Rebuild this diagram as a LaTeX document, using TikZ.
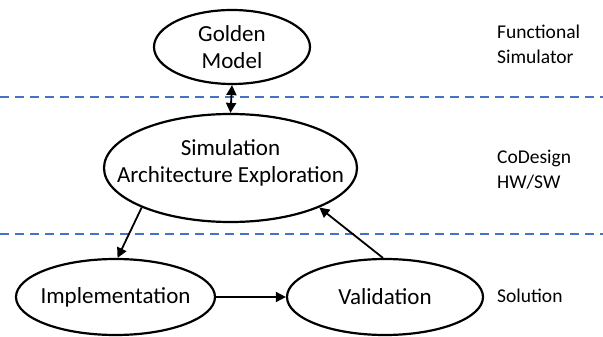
\documentclass[tikz,border=0pt]{standalone}
\usepackage{fontspec}
\setmainfont{Carlito}
\usetikzlibrary{shapes.geometric,arrows.meta}
\definecolor{sepblue}{RGB}{68,114,196}
\begin{document}
\begin{tikzpicture}[x=1pt,y=-1pt,
  % negative inner sep keeps each ellipse at its minimum size
  bubble/.style={ellipse,draw=black,line width=2.2pt,inner xsep=-45pt,inner ysep=-15pt,
    align=center,font=\fontsize{23}{27.5}\selectfont},
  link/.style={line width=1.8pt,-{Triangle[length=10pt,width=10pt]}},
  twoway/.style={line width=1.8pt,{Triangle[length=10pt,width=10pt]}-{Triangle[length=10pt,width=10pt]}},
  layerline/.style={draw=sepblue,line width=2pt,dash pattern=on 9pt off 6pt},
  layerlabel/.style={anchor=west,align=left,inner sep=0pt,font=\fontsize{19.5}{25}\selectfont}
]
\useasboundingbox (0,0) rectangle (603,337);

% layer separators
\coordinate (s1w) at (0,97);
\coordinate (s1e) at (603,97);
\coordinate (s2w) at (0,234);
\coordinate (s2e) at (603,234);
\draw[layerline] (s1w) -- (s1e);
\draw[layerline] (s2w) -- (s2e);

% flow nodes
\node[bubble,minimum width=156pt,minimum height=74pt] (golden) at (232,47) {Golden\\Model};
\node[bubble,minimum width=253pt,minimum height=108pt,text depth=14pt] (sim) at (230.5,168) {Simulation\\Architecture Exploration};
\node[bubble,minimum width=199pt,minimum height=76pt] (impl) at (115.5,297) {Implementation};
\node[bubble,minimum width=196pt,minimum height=76pt] (valid) at (385,297) {Validation};

% layer names
\node[layerlabel] (lfs) at (497,44.5) {Functional\\Simulator};
\node[layerlabel] (lcd) at (497,169.5) {CoDesign\\HW/SW};
\node[layerlabel] (lsol) at (497,296) {Solution};

% connectors
\draw[twoway] (golden.south) -- (sim.north);
\draw[link] (sim.204) -- (impl.87);
\draw[link] (impl.east) -- (valid.west);
\draw[link] (valid.93) -- (sim.336);
\end{tikzpicture}
\end{document}
